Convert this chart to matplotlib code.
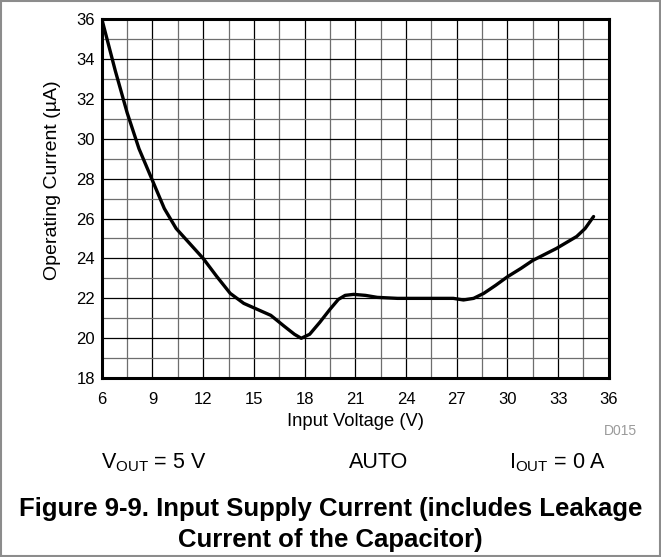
import matplotlib
matplotlib.use("Agg")
import matplotlib.pyplot as plt
from matplotlib.patches import Rectangle
from matplotlib.ticker import MultipleLocator

# values
input_voltage = [6.0, 6.8, 7.5, 8.2, 9.0, 9.7, 10.4, 11.2, 12.0, 12.8, 13.6,
                 14.4, 15.2, 16.0, 16.8, 17.4, 17.8, 18.3, 18.9, 19.5, 20.0,
                 20.4, 20.9, 21.6, 22.3, 23.5, 25.0, 26.0, 26.8, 27.4, 28.0,
                 28.6, 29.3, 30.0, 30.8, 31.5, 32.2, 32.9, 33.5, 34.1, 34.6,
                 35.1]
operating_current = [36.0, 33.4, 31.3, 29.5, 27.9, 26.5, 25.5, 24.75, 24.0,
                     23.1, 22.25, 21.75, 21.45, 21.15, 20.6, 20.2, 20.0, 20.2,
                     20.8, 21.45, 21.95, 22.15, 22.2, 22.15, 22.05, 22.0,
                     22.0, 22.0, 22.0, 21.92, 22.0, 22.25, 22.65, 23.08,
                     23.5, 23.9, 24.2, 24.5, 24.8, 25.1, 25.5, 26.1]

x_ticks = [6, 9, 12, 15, 18, 21, 24, 27, 30, 33, 36]
y_ticks = [18, 20, 22, 24, 26, 28, 30, 32, 34, 36]

plt.rcParams["font.family"] = ["Liberation Sans", "DejaVu Sans"]
plt.rcParams["mathtext.fontset"] = "custom"
plt.rcParams["mathtext.rm"] = "Liberation Sans"
plt.rcParams["mathtext.it"] = "Liberation Sans"

fig = plt.figure(figsize=(6.61, 5.57), dpi=100)
ax = fig.add_axes([0.154, 0.321, 0.767, 0.645])

ax.plot(input_voltage, operating_current, color="black", lw=2.4,
        solid_capstyle="round", solid_joinstyle="round", zorder=3)

ax.set_xlim(6, 36)
ax.set_ylim(18, 36)
ax.set_xticks(x_ticks)
ax.set_yticks(y_ticks)
ax.xaxis.set_minor_locator(MultipleLocator(1.5))
ax.yaxis.set_minor_locator(MultipleLocator(1))
ax.grid(which="major", color="black", lw=0.9)
ax.grid(which="minor", color="#6e6e6e", lw=0.9)
ax.tick_params(which="both", length=0, labelsize=12)
ax.tick_params(axis="x", pad=10)
ax.tick_params(axis="y", pad=5)
for sp in ax.spines.values():
    sp.set_linewidth(2.2)
    sp.set_zorder(4)

ax.set_xlabel("Input Voltage (V)", fontsize=13.2, va="center")
ax.xaxis.set_label_coords(0.5, -0.12)
ax.set_ylabel("Operating Current (\u00b5A)", fontsize=14, va="center")
ax.yaxis.set_label_coords(-0.097, 0.55)

fig.text(0.964, 0.226, "D015", color="#9a9a9a", fontsize=10, ha="right",
         va="center")
fig.text(0.233, 0.169, r"V$_{\mathrm{OUT}}$ = 5 V", fontsize=15.5,
         ha="center", va="center")
fig.text(0.573, 0.169, "AUTO", fontsize=15.5, ha="center", va="center")
fig.text(0.843, 0.169, r"I$_{\mathrm{OUT}}$ = 0 A", fontsize=15.5,
         ha="center", va="center")
fig.text(0.5, 0.058, "Figure 9-9. Input Supply Current (includes Leakage\n"
         "Current of the Capacitor)", fontsize=18.5, fontweight="bold",
         ha="center", va="center", linespacing=1.35)

fig.patches.append(Rectangle((0.002, 0.002), 0.996, 0.996,
                             transform=fig.transFigure, fill=False,
                             edgecolor="#8c8c8c", lw=1.5))

fig.savefig("out.png", dpi=100)
